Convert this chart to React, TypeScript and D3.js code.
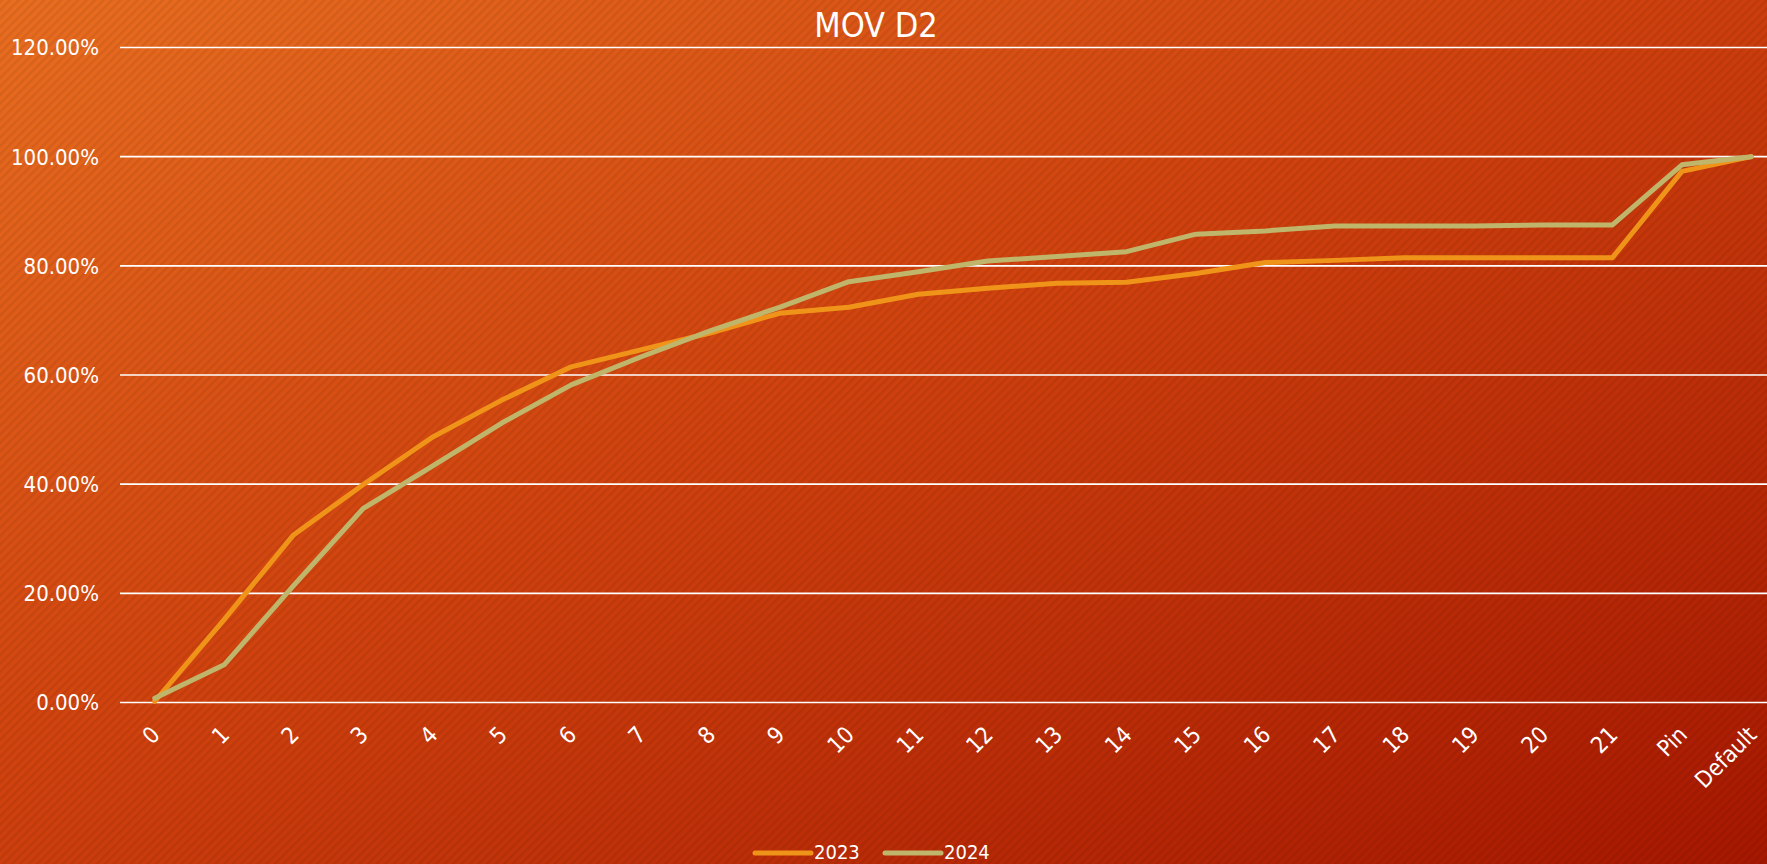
import * as React from 'react';
import * as d3 from 'd3';

const categories = ['0', '1', '2', '3', '4', '5', '6', '7', '8', '9', '10', '11', '12', '13', '14', '15', '16', '17', '18', '19', '20', '21', 'Pin', 'Default'];

const values2023 = [0.002, 0.152, 0.307, 0.399, 0.486, 0.554, 0.615, 0.646, 0.677, 0.713, 0.724, 0.748, 0.759, 0.768, 0.770, 0.786, 0.806, 0.810, 0.815, 0.815, 0.815, 0.815, 0.973, 1.0];
const values2024 = [0.008, 0.069, 0.214, 0.355, 0.433, 0.512, 0.582, 0.633, 0.681, 0.724, 0.771, 0.789, 0.809, 0.817, 0.826, 0.858, 0.864, 0.873, 0.873, 0.873, 0.875, 0.875, 0.985, 1.0];

const yTicks = [0, 0.2, 0.4, 0.6, 0.8, 1.0, 1.2];

const seriesNames = ['2023', '2024'];

const width = 1767;
const height = 864;

const plotMargins = {
    top: 47.5,
    bottom: 161.5,
    left: 120,
    right: -19
};

const colors = {
    '2023': '#F09419',
    '2024': '#BFB56B'
};

const fontFamily = "'DejaVu Sans Condensed', 'DejaVu Sans', sans-serif";

interface Series {
    name: string,
    values: number[]
}

class LineChart extends React.Component<object, object> {
    private node: SVGSVGElement | null = null;

    render() {
        return <svg
            ref={node => this.node = node}
            width={width}
            height={height}
            style={{ position: 'absolute', left: 0, top: 0, display: 'block' }}>
        </svg>
    }

    componentDidMount() {
        this.drawChart();
    }

    drawChart() {
        const svg = d3.select(this.node);
        svg.selectAll('*').remove();

        const series: Series[] = [
            { name: seriesNames[0], values: values2023 },
            { name: seriesNames[1], values: values2024 }
        ];

        // background: gradient with thin diagonal stripes
        const defs = svg.append('defs');
        const grad = defs.append('linearGradient')
            .attr('id', 'bg')
            .attr('x1', 0).attr('y1', 0)
            .attr('x2', 1).attr('y2', 1);
        grad.append('stop').attr('offset', '0%').attr('stop-color', '#E96E20');
        grad.append('stop').attr('offset', '45%').attr('stop-color', '#D0420E');
        grad.append('stop').attr('offset', '100%').attr('stop-color', '#A61700');

        const pattern = defs.append('pattern')
            .attr('id', 'stripes')
            .attr('patternUnits', 'userSpaceOnUse')
            .attr('width', 6)
            .attr('height', 6)
            .attr('patternTransform', 'rotate(45)');
        pattern.append('rect')
            .attr('width', 2.5)
            .attr('height', 6)
            .attr('fill', '#000')
            .attr('opacity', 0.07);

        svg.append('rect').attr('width', width).attr('height', height).attr('fill', 'url(#bg)');
        svg.append('rect').attr('width', width).attr('height', height).attr('fill', 'url(#stripes)');

        const xScale = d3.scalePoint<string>()
            .domain(categories)
            .range([plotMargins.left, width - plotMargins.right])
            .padding(0.5);

        const yScale = d3.scaleLinear()
            .domain([0, 1.2])
            .range([height - plotMargins.bottom, plotMargins.top]);

        // gridlines
        svg.append('g')
            .selectAll('line')
            .data(yTicks)
            .join('line')
            .attr('x1', plotMargins.left)
            .attr('x2', width)
            .attr('y1', d => yScale(d))
            .attr('y2', d => yScale(d))
            .attr('stroke', '#fff')
            .attr('stroke-width', 1.6);

        // y labels
        const pct = d3.format('.2%');
        svg.append('g')
            .selectAll('text')
            .data(yTicks)
            .join('text')
            .attr('x', 99)
            .attr('y', d => yScale(d))
            .attr('dy', '0.36em')
            .attr('text-anchor', 'end')
            .attr('font-family', fontFamily)
            .attr('font-size', 22)
            .attr('fill', '#fff')
            .text(d => pct(d));

        // x labels, rotated
        svg.append('g')
            .selectAll('text')
            .data(categories)
            .join('text')
            .attr('transform', d => `translate(${(xScale(d) || 0) + 1},${yScale(0) + 28}) rotate(-45)`)
            .attr('text-anchor', 'end')
            .attr('dominant-baseline', 'central')
            .attr('font-family', fontFamily)
            .attr('font-size', 23)
            .attr('fill', '#fff')
            .text(d => d);

        // lines
        const line = d3.line<number>()
            .x((_, i) => xScale(categories[i]) || 0)
            .y(d => yScale(d));

        svg.append('g')
            .selectAll('path')
            .data(series)
            .join('path')
            .attr('fill', 'none')
            .attr('stroke', d => colors[d.name])
            .attr('stroke-width', 5)
            .attr('stroke-linejoin', 'round')
            .attr('stroke-linecap', 'round')
            .attr('d', d => line(d.values));

        // title
        svg.append('text')
            .attr('x', 876)
            .attr('y', 37)
            .attr('text-anchor', 'middle')
            .attr('font-family', fontFamily)
            .attr('font-size', 34)
            .attr('fill', '#fff')
            .text('MOV D2');

        // legend
        const legendX = [755, 885];
        const legend = svg.append('g')
            .selectAll('g')
            .data(series)
            .join('g')
            .attr('transform', (_, i) => `translate(${legendX[i]},853)`);
        legend.append('line')
            .attr('x1', 0)
            .attr('x2', 56)
            .attr('stroke', d => colors[d.name])
            .attr('stroke-width', 5)
            .attr('stroke-linecap', 'round');
        legend.append('text')
            .attr('x', 59)
            .attr('y', 6)
            .attr('font-family', fontFamily)
            .attr('font-size', 20)
            .attr('fill', '#fff')
            .text(d => d.name);
    }
}

export default function App() {
    return <LineChart />;
}
